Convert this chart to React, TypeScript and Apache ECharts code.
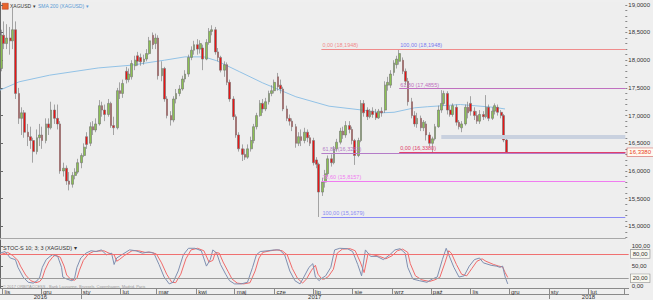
import React, { useEffect, useRef } from "react";
import * as echarts from "echarts";

// x axis unit: calendar days since 30 Oct 2016 (Sunday)
const X_MAX = 490.3;

// candles: Mon / Wed / Fri of each week, [open, close, low, high]
const ohlc: number[][] = [
  [17.85,18.45,17.80,18.55],[18.45,18.30,18.20,18.70],[18.30,18.40,18.20,18.65],
  [18.40,18.35,18.10,18.60],[18.35,18.55,18.20,18.95],[18.55,17.40,17.30,18.70],
  [17.40,16.95,16.85,17.50],[16.95,17.05,16.65,17.15],[17.05,16.70,16.60,17.10],
  [16.70,16.62,16.45,16.85],[16.62,16.55,16.40,16.80],[16.55,16.35,16.15,16.60],
  [16.35,16.60,16.30,16.75],[16.60,16.65,16.45,16.85],[16.65,16.55,16.40,16.80],
  [16.55,16.85,16.50,16.95],[16.85,16.78,16.65,16.95],[16.78,17.10,16.75,17.25],
  [17.10,16.95,16.85,17.20],[16.95,16.85,16.75,17.20],[16.85,16.00,15.95,16.90],
  [16.00,16.05,15.90,16.15],[16.05,15.82,15.75,16.10],[15.82,15.76,15.65,15.98],
  [15.76,15.92,15.70,15.98],[15.92,15.98,15.85,16.05],[15.98,16.15,15.95,16.22],
  [16.15,16.28,16.05,16.32],[16.28,16.43,16.25,16.50],[16.62,16.48,16.40,16.70],
  [16.50,16.80,16.45,16.88],[16.80,16.74,16.65,16.90],[16.74,16.85,16.70,16.95],
  [16.85,17.18,16.82,17.28],[17.18,17.10,16.98,17.25],[17.10,17.02,16.90,17.20],
  [17.02,17.22,16.98,17.30],[17.22,16.82,16.78,17.25],[16.82,16.78,16.65,16.98],
  [16.78,17.45,16.75,17.50],[17.45,17.40,17.30,17.60],[17.40,17.58,17.32,17.65],
  [17.80,17.65,17.58,17.88],[17.65,17.75,17.60,17.85],[17.70,17.94,17.65,18.00],
  [17.90,18.00,17.82,18.08],[18.08,17.98,17.90,18.15],[18.05,17.97,17.90,18.12],
  [17.97,18.02,17.92,18.10],[18.02,18.12,17.98,18.20],[18.12,18.35,18.10,18.42],
  [18.45,18.28,18.20,18.50],[18.30,18.40,18.20,18.48],[18.40,17.72,17.65,18.45],
  [17.72,17.85,17.62,17.98],[17.85,17.30,17.25,17.88],[17.30,17.00,16.95,17.35],
  [17.00,16.92,16.82,17.08],[16.92,17.30,16.88,17.35],[17.30,17.40,17.22,17.48],
  [17.40,17.48,17.35,17.55],[17.48,17.66,17.45,17.72],[17.66,17.75,17.60,17.82],
  [17.75,18.05,17.70,18.10],[18.05,18.18,18.00,18.25],[18.18,18.28,18.10,18.35],
  [18.28,18.20,18.10,18.38],[18.20,18.30,18.12,18.36],[18.22,18.02,17.82,18.28],
  [18.02,18.32,18.00,18.38],[18.32,18.52,18.28,18.58],[18.52,18.55,18.45,18.63],
  [18.55,18.15,18.10,18.60],[18.15,18.05,17.98,18.22],[18.05,17.82,17.78,18.08],
  [17.82,17.92,17.70,17.98],[17.92,17.60,17.55,17.96],[17.60,17.30,17.25,17.65],
  [17.30,16.98,16.92,17.35],[16.98,16.65,16.60,17.02],[16.65,16.40,16.35,16.70],
  [16.40,16.30,16.18,16.48],[16.30,16.25,16.20,16.40],[16.25,16.40,16.22,16.48],
  [16.40,16.55,16.35,16.62],[16.55,16.80,16.50,16.85],[16.80,17.00,16.75,17.05],
  [17.00,17.22,16.98,17.28],[17.22,17.12,17.05,17.30],[17.12,17.25,17.08,17.32],
  [17.25,17.40,17.20,17.45],[17.40,17.45,17.35,17.55],[17.45,17.60,17.40,17.65],
  [17.70,17.52,17.45,17.77],[17.55,17.48,17.40,17.65],[17.48,17.12,17.08,17.52],
  [17.12,16.95,16.90,17.18],[16.95,16.90,16.82,17.02],[16.90,16.80,16.72,16.95],
  [16.80,16.50,16.42,16.85],[16.50,16.62,16.45,16.70],[16.62,16.55,16.45,16.75],
  [16.55,16.70,16.50,16.78],[16.70,16.60,16.52,16.75],[16.60,16.50,16.45,16.65],
  [16.55,16.15,16.10,16.60],[16.20,16.12,16.05,16.25],[16.12,15.62,15.17,16.15],
  [15.62,15.80,15.55,15.88],[15.80,15.95,15.70,16.02],[15.95,16.22,15.90,16.28],
  [16.22,16.15,16.08,16.30],[16.15,16.40,16.12,16.45],[16.40,16.52,16.35,16.58],
  [16.52,16.72,16.48,16.78],[16.72,16.65,16.58,16.80],[16.65,16.82,16.60,16.90],
  [16.82,16.75,16.68,16.90],[16.75,16.55,16.48,16.80],[16.55,16.28,16.11,16.58],
  [16.28,16.55,16.25,16.60],[16.55,17.22,16.52,17.28],[17.22,17.05,16.98,17.28],
  [17.10,16.98,16.92,17.15],[16.98,17.08,16.95,17.12],[17.08,17.02,16.96,17.15],
  [17.05,16.96,16.92,17.12],[16.96,17.08,16.94,17.12],[17.08,17.05,16.98,17.15],
  [17.10,17.55,17.05,17.62],[17.55,17.60,17.45,17.70],[17.55,17.75,17.50,17.82],
  [17.78,17.95,17.72,18.00],[17.92,18.02,17.85,18.08],[17.98,18.12,17.92,18.19],
  [18.00,17.80,17.75,18.05],[17.80,17.62,17.55,17.85],[17.62,17.25,17.18,17.68],
  [17.25,17.00,16.95,17.32],[17.00,16.85,16.80,17.08],[16.85,16.95,16.78,17.05],
  [16.95,16.78,16.72,17.00],[16.78,16.88,16.72,16.92],[16.85,16.65,16.55,16.90],
  [16.65,16.50,16.45,16.70],[16.50,16.58,16.34,16.62],[16.58,16.80,16.55,16.85],
  [16.80,17.10,16.78,17.18],[17.10,17.22,17.05,17.46],[17.22,17.40,17.18,17.45],
  [17.40,17.10,17.02,17.44],[17.10,17.02,16.98,17.18],[17.02,17.18,16.98,17.22],
  [17.15,16.88,16.82,17.20],[16.88,16.80,16.75,16.92],[16.78,16.85,16.70,16.90],
  [16.85,17.15,16.82,17.20],[17.15,17.05,16.95,17.25],[17.22,17.08,17.00,17.35],
  [17.08,17.00,16.92,17.15],[17.00,16.90,16.85,17.08],[16.90,17.02,16.85,17.10],
  [17.02,16.98,16.92,17.08],[16.98,17.15,16.95,17.37],[17.15,16.95,16.90,17.20],
  [16.95,17.08,16.92,17.15],[17.08,17.18,17.02,17.22],[17.15,17.06,17.00,17.20],
  [17.06,17.00,16.95,17.10],[17.00,16.56,16.52,17.03],[16.56,16.338,16.33,16.60],
];
const weekdayOffsets = [1, 3, 5];
const candleDays = ohlc.map((_, i) => Math.floor(i / 3) * 7 + weekdayOffsets[i % 3]);

// SMA 200: [day, value]
const sma200: number[][] = [
  [0,17.46],[15,17.61],[39,17.73],[77,17.86],[103,17.91],[129,18.0],[145,18.06],
  [160,18.06],[170,17.99],[188,17.79],[206,17.59],[232,17.34],[258,17.17],[284,17.10],
  [299,17.05],[309,17.06],[325,17.14],[335,17.16],[361,17.20],[387,17.15],[396,17.12],
];

// Stochastic %K (blue) and %D (red): [day, value]
const stochK: number[][] = [
  [0,82],[4,86],[8,70],[12,66],[14,47],[18,23],[22,10],[26,8],[29,14],[31,23],[33,47],[36,66],
  [39,74],[41,78],[45,74],[48,47],[49,23],[52,18],[56,14],[58,18],[60,47],[63,70],[67,82],[71,88],
  [75,86],[79,90],[83,78],[87,82],[89,54],[91,70],[95,78],[101,90],[106,88],[111,82],[116,85],
  [120,82],[124,54],[128,23],[132,6],[135,10],[139,38],[143,78],[147,94],[152,94],[157,88],
  [161,50],[164,66],[166,90],[169,82],[172,54],[176,30],[179,14],[183,6],[188,6],[193,10],
  [197,47],[200,78],[203,86],[209,88],[214,90],[218,90],[222,78],[226,38],[230,14],[234,6],
  [237,23],[241,47],[244,56],[246,23],[249,14],[250,18],[254,26],[258,47],[261,90],[265,94],
  [271,93],[275,86],[279,54],[282,26],[285,90],[289,74],[294,74],[299,66],[304,78],[308,90],
  [312,93],[316,82],[318,47],[322,18],[327,14],[333,10],[337,18],[341,23],[345,66],[348,94],
  [350,78],[354,47],[358,23],[362,26],[366,50],[370,66],[374,70],[377,58],[383,52],[387,50],
  [390,47],[392,50],[394,23],[396,6],
];
const stochD: number[][] = [
  [0,78],[6,84],[10,76],[14,64],[16,50],[20,28],[24,14],[28,9],[31,12],[33,20],[35,40],[38,60],
  [41,72],[43,77],[47,72],[50,50],[52,28],[55,18],[58,15],[60,20],[62,40],[65,64],[69,80],[73,86],
  [77,87],[81,88],[85,82],[89,78],[91,62],[93,66],[97,76],[103,88],[108,88],[113,84],[118,84],
  [122,80],[126,58],[130,30],[134,10],[137,9],[141,30],[145,68],[149,90],[154,94],[159,88],
  [163,60],[166,64],[168,84],[171,82],[174,60],[178,36],[181,18],[185,8],[190,6],[195,9],
  [199,38],[202,70],[205,84],[211,88],[216,90],[220,88],[224,78],[228,44],[232,20],[236,8],
  [239,18],[243,40],[246,52],[248,30],[251,18],[253,18],[256,24],[260,42],[263,82],[267,92],
  [273,93],[277,88],[281,60],[284,34],[287,80],[291,78],[296,74],[301,68],[306,76],[310,88],
  [314,92],[318,84],[320,56],[324,26],[329,16],[335,12],[339,16],[343,22],[347,58],[350,88],
  [352,82],[356,54],[360,30],[364,26],[368,44],[372,62],[376,68],[379,62],[385,54],[389,50],
  [392,48],[394,34],[396,22],
];

// Fibonacci tools
const fibAStart = 252;
const fibAPct = ["0,00", "61,80", "78,60", "100,00"];
const fibAVal = [18.1948, 16.3242, 15.8157, 15.1679];
const fibAColor = ["#f08c8c", "#b47cc8", "#f07cf0", "#8a8af5"];
const fibBStart = 313;
const fibBPct = ["100,00", "61,80", "0,00"];
const fibBVal = [18.1948, 17.4855, 16.338];
const fibBColor = ["#7a7af0", "#c070c0", "#e0406a"];
const fibBLine = ["#f08c8c", "#c070c0", "#e0406a"];
const zoneStart = 346;
const zoneValue = 16.614;
const lastPrice = 16.338;

// axes
const priceTicks = [15, 15.5, 16, 16.5, 17, 17.5, 18, 18.5, 19];
const priceMin = 14.7906;
const priceMax = 19.0505;
const stochTicks = [0, 50, 100];
const monthStarts = [2, 32, 63, 94, 122, 153, 183, 214, 244, 275, 306, 336, 367, 397, 428, 459, 487];
const monthNames = ["lis", "gru", "sty", "lut", "mar", "kwi", "maj", "cze", "lip", "sie", "wrz", "paź", "lis", "gru", "sty", "lut", ""];
const yearStarts = [63, 428];
const yearMids = [31.5, 245.5, 459];
const yearNames = ["2016", "2017", "2018"];

const FONT = "Liberation Sans";
const fmt4 = (v: number) => v.toFixed(4).replace(".", ",");
const fmt2 = (v: number) => v.toFixed(2).replace(".", ",");

function buildOption() {
  const minorTicks: number[] = [];
  for (let k = 148; k <= 190; k++) minorTicks.push(k / 10);

  const fibLines: any[] = [];
  fibLines.push([
    { coord: [zoneStart, zoneValue], lineStyle: { color: "#c9d1df", width: 4, type: "solid" }, label: { show: false } },
    { coord: [X_MAX, zoneValue] },
  ]);
  fibAVal.forEach((v, i) => {
    fibLines.push([
      {
        coord: [fibAStart, v],
        lineStyle: { color: fibAColor[i], width: 1, type: "solid" },
        label: { show: true, formatter: `${fibAPct[i]} (${fmt4(v)})`, position: "insideStartTop", color: fibAColor[i], fontSize: 5.5, fontFamily: FONT, distance: 1 },
      },
      { coord: [X_MAX, v] },
    ]);
  });
  fibBVal.forEach((v, i) => {
    fibLines.push([
      {
        coord: [fibBStart, v],
        lineStyle: { color: fibBLine[i], width: i === 2 ? 1.2 : 1, type: "solid" },
        label: { show: true, formatter: `${fibBPct[i]} (${fmt4(v)})`, position: "insideStartTop", color: fibBColor[i], fontSize: 5.5, fontFamily: FONT, distance: 1 },
      },
      { coord: [X_MAX, v] },
    ]);
  });
  // current-price tag on the axis
  fibLines.push([
    {
      coord: [X_MAX - 0.5, lastPrice],
      lineStyle: { color: "#e0406a", width: 1.2, type: "solid" },
      label: {
        show: true, position: "end", formatter: fmt4(lastPrice), distance: 2,
        color: "#e8401c", fontSize: 6, fontFamily: FONT, backgroundColor: "#fffaf0",
        borderColor: "#d05050", borderWidth: 0.6, padding: [1, 2],
      },
    },
    { coord: [X_MAX, lastPrice] },
  ]);

  const stochLines = [
    {
      yAxis: 80, lineStyle: { color: "#f07070", width: 1, type: "solid" },
      label: { show: true, position: "end", formatter: "80,00", distance: 2, color: "#333", fontSize: 6, fontFamily: FONT, backgroundColor: "#f8f8f0", borderColor: "#888", borderWidth: 0.6, padding: [1, 2] },
    },
    {
      yAxis: 20, lineStyle: { color: "#9a9a9a", width: 1, type: "solid" },
      label: { show: true, position: "end", formatter: "20,00", distance: 2, color: "#333", fontSize: 6, fontFamily: FONT, backgroundColor: "#f8f8f0", borderColor: "#888", borderWidth: 0.6, padding: [1, 2] },
    },
  ];

  return {
    animation: false,
    backgroundColor: "#efefef",
    textStyle: { fontFamily: FONT },
    grid: [
      { left: 0, right: 19, top: 2, bottom: 62, show: true, backgroundColor: "#eeeeee", borderWidth: 0 },
      { left: 0, right: 19, top: 240, bottom: 11, show: true, backgroundColor: "#eeeeee", borderWidth: 0 },
    ],
    xAxis: [
      {
        gridIndex: 0, type: "value", min: 0, max: X_MAX,
        axisLine: { show: true, onZero: false, lineStyle: { color: "#a8a8a8" } },
        axisTick: { show: false }, axisLabel: { show: false }, splitLine: { show: false },
      },
      {
        gridIndex: 1, type: "value", min: 0, max: X_MAX, position: "bottom",
        axisLine: { show: true, onZero: false, lineStyle: { color: "#8a8a8a" } },
        axisTick: { show: true, customValues: monthStarts, length: 6, lineStyle: { color: "#8a8a8a" } },
        axisLabel: {
          show: true, customValues: monthStarts, align: "left", margin: 1, padding: [0, 0, 0, 2],
          fontSize: 6, color: "#333", fontFamily: FONT,
          formatter: (v: number) => monthNames[monthStarts.indexOf(v)] ?? "",
        },
        splitLine: { show: false },
      },
      {
        gridIndex: 1, type: "value", min: 0, max: X_MAX, position: "bottom", offset: 6,
        axisLine: { show: true, onZero: false, lineStyle: { color: "#8a8a8a" } },
        axisTick: { show: true, customValues: yearStarts, length: 5, lineStyle: { color: "#8a8a8a" } },
        axisLabel: {
          show: true, customValues: yearMids, align: "center", margin: 0,
          fontSize: 6, color: "#333", fontFamily: FONT,
          formatter: (v: number) => yearNames[yearMids.indexOf(v)] ?? "",
        },
        splitLine: { show: false },
      },
    ],
    yAxis: [
      {
        gridIndex: 0, type: "value", position: "right", min: priceMin, max: priceMax,
        axisLine: { show: true, lineStyle: { color: "#666" } },
        axisTick: { show: true, customValues: priceTicks, length: 3, lineStyle: { color: "#666" } },
        axisLabel: { show: true, customValues: priceTicks, formatter: (v: number) => fmt4(v), fontSize: 6, color: "#333", margin: 3, fontFamily: FONT },
        splitLine: { show: false },
      },
      {
        gridIndex: 0, type: "value", position: "right", min: priceMin, max: priceMax,
        axisLine: { show: false },
        axisTick: { show: true, customValues: minorTicks, length: 2, lineStyle: { color: "#888" } },
        axisLabel: { show: false }, splitLine: { show: false },
      },
      {
        gridIndex: 1, type: "value", position: "right", min: -4.1, max: 114.5,
        axisLine: { show: true, lineStyle: { color: "#666" } },
        axisTick: { show: true, customValues: stochTicks, length: 3, lineStyle: { color: "#666" } },
        axisLabel: { show: true, customValues: stochTicks, formatter: (v: number) => fmt2(v), fontSize: 6, color: "#333", margin: 3, fontFamily: FONT },
        splitLine: { show: false },
      },
    ],
    graphic: [
      { type: "rect", left: 2, top: 3, shape: { width: 6, height: 6 }, style: { fill: "#e8642c", stroke: "#b03010", lineWidth: 0.5 } },
      { type: "text", left: 10, top: 3.5, style: { text: "XAGUSD ▾", fontSize: 5, fill: "#333", fontFamily: FONT } },
      { type: "text", left: 38, top: 3.5, style: { text: "SMA 200 (XAGUSD) ▾", fontSize: 5, fill: "#5b9bd5", fontFamily: FONT } },
      { type: "text", left: 3, top: 245, style: { text: "STOC-S 10; 3; 3 (XAGUSD) ▾", fontSize: 5.5, fill: "#333", fontFamily: FONT } },
      { type: "text", left: 3, top: 284.5, style: { text: "© 2017 ORBITACCESS - Bank Lausanne, Brussels, Copenhagen, Madrid, Paris", fontSize: 4, fill: "#9a9a9a", fontFamily: FONT } },
    ],
    series: [
      {
        type: "line", xAxisIndex: 0, yAxisIndex: 0, data: sma200, symbol: "none", z: 1,
        lineStyle: { color: "#92c2e6", width: 1 },
        markLine: { symbol: ["none", "none"], silent: true, animation: false, data: fibLines },
      },
      {
        type: "candlestick", xAxisIndex: 0, yAxisIndex: 0, z: 3,
        data: ohlc.map((c, i) => [candleDays[i], c[0], c[1], c[2], c[3]]),
        encode: { x: 0, y: [1, 2, 3, 4] },
        barWidth: 2.2,
        itemStyle: { color: "#8cc152", color0: "#ea1414", borderColor: "#707070", borderColor0: "#707070", borderWidth: 0.6 },
      },
      {
        type: "line", xAxisIndex: 1, yAxisIndex: 2, data: stochD, symbol: "none", z: 2,
        lineStyle: { color: "#f06a6a", width: 1 },
        markLine: { symbol: ["none", "none"], silent: true, animation: false, data: stochLines },
      },
      {
        type: "line", xAxisIndex: 1, yAxisIndex: 2, data: stochK, symbol: "none", z: 3,
        lineStyle: { color: "#7f8fb0", width: 1 },
      },
    ],
  };
}

export default function App() {
  const ref = useRef<HTMLDivElement>(null);
  useEffect(() => {
    document.body.style.margin = "0";
    const chart = echarts.init(ref.current!, null, { renderer: "svg" });
    chart.setOption(buildOption() as any);
    return () => chart.dispose();
  }, []);
  return <div ref={ref} style={{ width: 653, height: 300, background: "#efefef" }} />;
}
